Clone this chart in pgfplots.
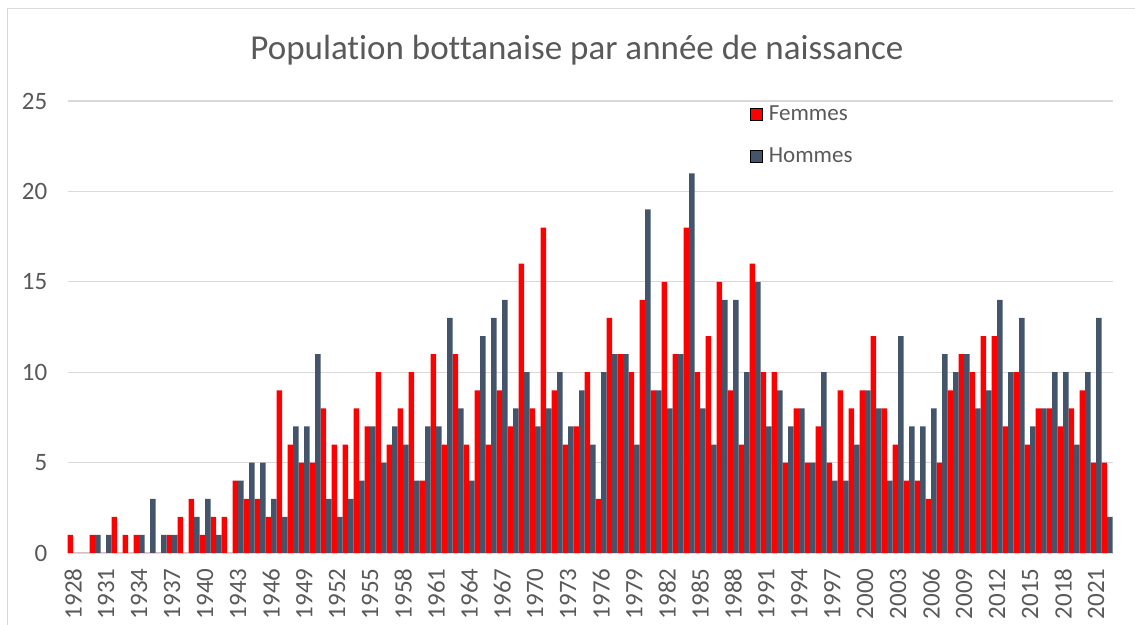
\documentclass[border=0pt]{standalone}
\usepackage{fontspec}
\setmainfont{Carlito}[Ligatures=NoCommon]
\usepackage{pgfplots}
\usepackage{pgfplotstable}
\pgfplotsset{compat=1.18}

\definecolor{femmes}{HTML}{FF0000}
\definecolor{hommes}{HTML}{44546A}
\definecolor{txt}{HTML}{595959}
\definecolor{grd}{HTML}{D9D9D9}

% k = year - 1928, F = Femmes, H = Hommes
\pgfplotstableread{
k year F H
0 1928 1 0
1 1929 0 0
2 1930 1 1
3 1931 0 1
4 1932 2 0
5 1933 1 0
6 1934 1 1
7 1935 0 3
8 1936 0 1
9 1937 1 1
10 1938 2 0
11 1939 3 2
12 1940 1 3
13 1941 2 1
14 1942 2 0
15 1943 4 4
16 1944 3 5
17 1945 3 5
18 1946 2 3
19 1947 9 2
20 1948 6 7
21 1949 5 7
22 1950 5 11
23 1951 8 3
24 1952 6 2
25 1953 6 3
26 1954 8 4
27 1955 7 7
28 1956 10 5
29 1957 6 7
30 1958 8 6
31 1959 10 4
32 1960 4 7
33 1961 11 7
34 1962 6 13
35 1963 11 8
36 1964 6 4
37 1965 9 12
38 1966 6 13
39 1967 9 14
40 1968 7 8
41 1969 16 10
42 1970 8 7
43 1971 18 8
44 1972 9 10
45 1973 6 7
46 1974 7 9
47 1975 10 6
48 1976 3 10
49 1977 13 11
50 1978 11 11
51 1979 10 6
52 1980 14 19
53 1981 9 9
54 1982 15 8
55 1983 11 11
56 1984 18 21
57 1985 10 8
58 1986 12 6
59 1987 15 14
60 1988 9 14
61 1989 6 10
62 1990 16 15
63 1991 10 7
64 1992 10 9
65 1993 5 7
66 1994 8 8
67 1995 5 5
68 1996 7 10
69 1997 5 4
70 1998 9 4
71 1999 8 6
72 2000 9 9
73 2001 12 8
74 2002 8 4
75 2003 6 12
76 2004 4 7
77 2005 4 7
78 2006 3 8
79 2007 5 11
80 2008 9 10
81 2009 11 11
82 2010 10 8
83 2011 12 9
84 2012 12 14
85 2013 7 10
86 2014 10 13
87 2015 6 7
88 2016 8 8
89 2017 8 10
90 2018 7 10
91 2019 8 6
92 2020 9 10
93 2021 5 13
94 2022 5 2
}\naissances

\begin{document}
\begin{tikzpicture}
\useasboundingbox (0,0) rectangle (567.5pt,312.5pt);
% chart frame (only left and top edges are inside the picture)
\draw[grd, line width=0.65pt] (3.7pt,0pt) -- (3.7pt,308.2pt) -- (567.5pt,308.2pt);
\node[txt, anchor=base, inner sep=0pt, font=\fontsize{17.5}{21}\selectfont]
  at (288.5pt,282.5pt) {Population bottanaise par année de naissance};

\begin{axis}[
    at={(33.85pt,36pt)}, anchor=south west,
    scale only axis,
    width=522.5pt, height=226pt,
    xmin=-0.5, xmax=94.5,
    ymin=0, ymax=25,
    ytick={0,5,...,25},
    xtick={0,3,...,93},
    xticklabels={1928,1931,1934,1937,1940,1943,1946,1949,1952,1955,1958,1961,1964,1967,1970,1973,1976,1979,1982,1985,1988,1991,1994,1997,2000,2003,2006,2009,2012,2015,2018,2021},
    major tick length=0pt,
    axis line style={draw=none},
    ymajorgrids,
    grid style={grd, line width=0.65pt},
    tick label style={txt, font=\fontsize{12.5}{15}\selectfont},
    /pgf/number format/assume math mode=true,
    yticklabel style={inner sep=0pt, xshift=-10pt},
    xticklabel style={rotate=90, anchor=east, inner sep=0pt, xshift=-7.5pt},
    legend style={draw=none, fill=none, at={(axis cs:61.5,24.83)}, anchor=north west,
        inner sep=0pt, font=\fontsize{11.5}{13}\selectfont, text=txt,
        row sep=11pt, column sep=3pt,
        nodes={inner sep=0pt, text height=8pt, text depth=2pt}},
    legend cell align=left,
    legend image code/.code={\draw[#1] (0pt,-3pt) rectangle (6pt,3pt);},
]
\addplot[ybar, bar width=0.5, bar shift=-0.25, fill=femmes, draw=none]
    table[x=k, y=F] {\naissances};
\addlegendentry{Femmes}
\addplot[ybar, bar width=0.5, bar shift=0.25, fill=hommes, draw=none]
    table[x=k, y=H] {\naissances};
\addlegendentry{Hommes}
\end{axis}
\end{tikzpicture}
\end{document}
